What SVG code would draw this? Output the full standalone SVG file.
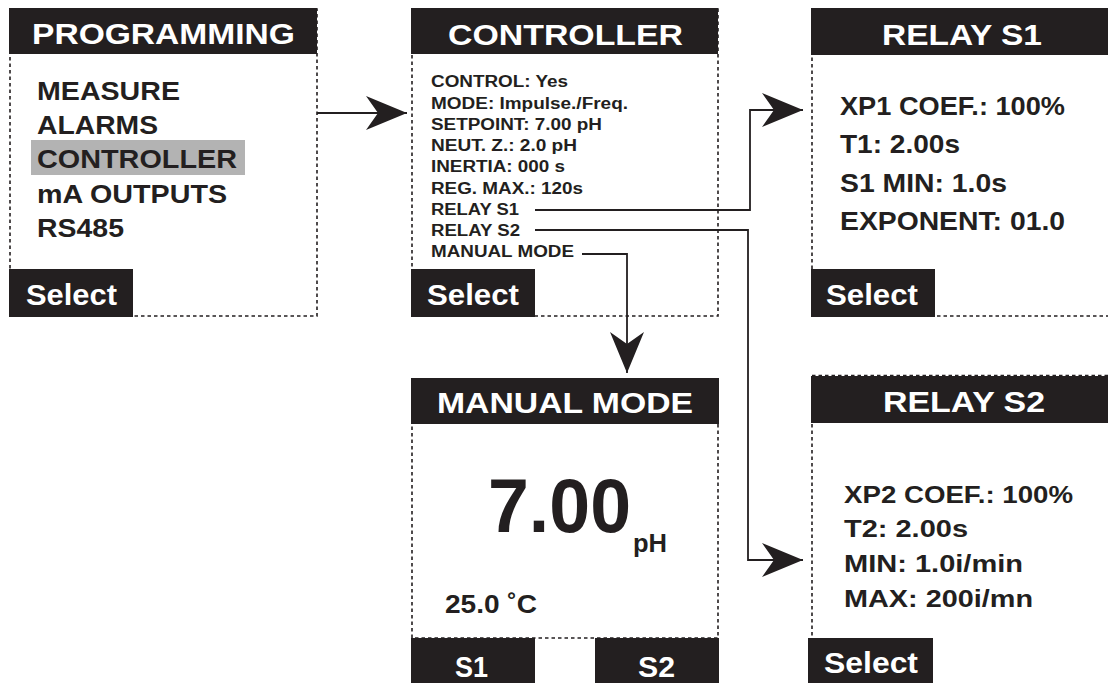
<svg xmlns="http://www.w3.org/2000/svg" width="1108" height="683" viewBox="0 0 1108 683">
<defs>
<style>
.frame{fill:none;stroke:#231f20;stroke-width:1.6;stroke-dasharray:3.5 3}
.blk{fill:#231f20}
.hl{fill:#b3b3b3}
.t{font-family:"Liberation Sans",Arial,sans-serif;font-weight:bold;fill:#231f20}
.w{font-family:"Liberation Sans",Arial,sans-serif;font-weight:bold;fill:#ffffff}
.hd{font-size:29px}
.mn{font-size:25.5px}
.sm{font-size:16px}
.sel{font-size:30px}
.r1{font-size:25px}
.r2{font-size:23px}
.conn{fill:none;stroke:#231f20;stroke-width:1.8}
</style>
<marker id="ah" markerUnits="userSpaceOnUse" markerWidth="42" markerHeight="36" viewBox="0 0 42 36" refX="41" refY="17" orient="auto">
<path d="M0,0 L41,17 L0,34 L12,17 Z" fill="#231f20"/>
</marker>
</defs>
<rect width="1108" height="683" fill="#ffffff"/>

<g id="programming">
<rect class="frame" x="10" y="9" width="307" height="307"/>
<rect class="blk" x="9" y="8" width="308" height="46"/>
<text class="w hd" x="32" y="43.5" textLength="263" lengthAdjust="spacingAndGlyphs">PROGRAMMING</text>
<rect class="hl" x="31" y="140" width="214" height="35"/>
<text class="t mn" x="37" y="100" textLength="143" lengthAdjust="spacingAndGlyphs">MEASURE</text>
<text class="t mn" x="37" y="134" textLength="121" lengthAdjust="spacingAndGlyphs">ALARMS</text>
<text class="t mn" x="37" y="168" textLength="200" lengthAdjust="spacingAndGlyphs">CONTROLLER</text>
<text class="t mn" x="37" y="203" textLength="190" lengthAdjust="spacingAndGlyphs">mA OUTPUTS</text>
<text class="t mn" x="37" y="237" textLength="87" lengthAdjust="spacingAndGlyphs">RS485</text>
<rect class="blk" x="9" y="269" width="124" height="48"/>
<text class="w sel" x="26" y="305" textLength="91" lengthAdjust="spacingAndGlyphs">Select</text>
</g>

<g id="controller">
<rect class="frame" x="412" y="9" width="306" height="307"/>
<rect class="blk" x="411" y="8" width="307" height="46"/>
<text class="w hd" x="448" y="45" textLength="235" lengthAdjust="spacingAndGlyphs">CONTROLLER</text>
<text class="t sm" x="431" y="87.3" textLength="137" lengthAdjust="spacingAndGlyphs">CONTROL: Yes</text>
<text class="t sm" x="431" y="108.5" textLength="197" lengthAdjust="spacingAndGlyphs">MODE: Impulse./Freq.</text>
<text class="t sm" x="431" y="129.8" textLength="171" lengthAdjust="spacingAndGlyphs">SETPOINT: 7.00 pH</text>
<text class="t sm" x="431" y="151" textLength="146" lengthAdjust="spacingAndGlyphs">NEUT. Z.: 2.0 pH</text>
<text class="t sm" x="431" y="172.3" textLength="134" lengthAdjust="spacingAndGlyphs">INERTIA: 000 s</text>
<text class="t sm" x="431" y="193.5" textLength="152" lengthAdjust="spacingAndGlyphs">REG. MAX.: 120s</text>
<text class="t sm" x="431" y="214.8" textLength="88" lengthAdjust="spacingAndGlyphs">RELAY S1</text>
<text class="t sm" x="431" y="236" textLength="89" lengthAdjust="spacingAndGlyphs">RELAY S2</text>
<text class="t sm" x="431" y="257.3" textLength="143" lengthAdjust="spacingAndGlyphs">MANUAL MODE</text>
<rect class="blk" x="411" y="269" width="124" height="48"/>
<text class="w sel" x="427" y="305" textLength="92" lengthAdjust="spacingAndGlyphs">Select</text>
</g>

<g id="relay-s1">
<path class="frame" d="M1108,9 H812 V316 H1108"/>
<rect class="blk" x="811" y="8" width="297" height="47"/>
<text class="w hd" x="882" y="45" textLength="160" lengthAdjust="spacingAndGlyphs">RELAY S1</text>
<text class="t r1" x="840" y="115" textLength="225" lengthAdjust="spacingAndGlyphs">XP1 COEF.: 100%</text>
<text class="t r1" x="840" y="153" textLength="120" lengthAdjust="spacingAndGlyphs">T1: 2.00s</text>
<text class="t r1" x="840" y="192" textLength="167" lengthAdjust="spacingAndGlyphs">S1 MIN: 1.0s</text>
<text class="t r1" x="840" y="230" textLength="225" lengthAdjust="spacingAndGlyphs">EXPONENT: 01.0</text>
<rect class="blk" x="811" y="269" width="124" height="48"/>
<text class="w sel" x="826" y="305" textLength="92" lengthAdjust="spacingAndGlyphs">Select</text>
</g>

<g id="manual-mode">
<rect class="frame" x="412" y="379" width="306" height="259"/>
<rect class="blk" x="411" y="378" width="308" height="46"/>
<text class="w hd" x="437" y="413" textLength="256" lengthAdjust="spacingAndGlyphs">MANUAL MODE</text>
<text class="t" x="488" y="532" font-size="76" textLength="143" lengthAdjust="spacingAndGlyphs">7.00</text>
<text class="t" x="633" y="552" font-size="25" textLength="34" lengthAdjust="spacingAndGlyphs">pH</text>
<text class="t" x="445" y="613" font-size="26" textLength="92" lengthAdjust="spacingAndGlyphs">25.0 ˚C</text>
<rect class="blk" x="411" y="638" width="124" height="45"/>
<text class="w sel" x="455" y="677" textLength="33" lengthAdjust="spacingAndGlyphs">S1</text>
<rect class="blk" x="595" y="638" width="124" height="45"/>
<text class="w sel" x="638" y="677" textLength="37" lengthAdjust="spacingAndGlyphs">S2</text>
</g>

<g id="relay-s2">
<path class="frame" d="M1108,375.5 H812 V638"/>
<rect class="blk" x="811" y="376" width="297" height="47"/>
<text class="w hd" x="883" y="412" textLength="162" lengthAdjust="spacingAndGlyphs">RELAY S2</text>
<text class="t r2" x="844" y="503" textLength="229" lengthAdjust="spacingAndGlyphs">XP2 COEF.: 100%</text>
<text class="t r2" x="844" y="537" textLength="124" lengthAdjust="spacingAndGlyphs">T2: 2.00s</text>
<text class="t r2" x="844" y="572" textLength="179" lengthAdjust="spacingAndGlyphs">MIN: 1.0i/min</text>
<text class="t r2" x="844" y="607" textLength="189" lengthAdjust="spacingAndGlyphs">MAX: 200i/mn</text>
<rect class="blk" x="808" y="638" width="125" height="45"/>
<text class="w sel" x="824" y="673" textLength="94" lengthAdjust="spacingAndGlyphs">Select</text>
</g>

<g id="connectors">
<path class="conn" d="M317,113 H407" marker-end="url(#ah)"/>
<path class="conn" d="M535,210 H750 V110 H803" marker-end="url(#ah)"/>
<path class="conn" d="M535,230 H748 V560 H803" marker-end="url(#ah)"/>
<path class="conn" d="M582,254 H627 V373" marker-end="url(#ah)"/>
</g>
</svg>
